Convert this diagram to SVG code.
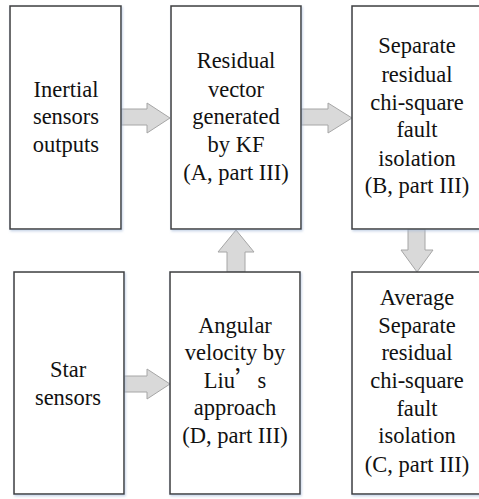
<svg xmlns="http://www.w3.org/2000/svg" width="479" height="499" viewBox="0 0 479 499">
<defs>
<filter id="sh" x="-10%" y="-10%" width="120%" height="120%">
<feDropShadow dx="1" dy="1.5" stdDeviation="1" flood-color="#9fb6d6" flood-opacity="0.6"/>
</filter>
</defs>
<style>
.box{fill:#fff;stroke:#3c3c3c;stroke-width:1.5;filter:url(#sh)}
.arr{fill:#d9d9d9;stroke:#a6a6a6;stroke-width:1}
</style>
<rect width="479" height="499" fill="#fff"/>
<g id="connectors">
<polygon class="arr" points="121,109 147,109 147,103 170,118 147,133 147,125 121,125"/>
<polygon class="arr" points="301,109 328,109 328,103 352,118 328,133 328,125 301,125"/>
<polygon class="arr" points="124,376 147,376 147,369 170,384 147,399 147,392 124,392"/>
<polygon class="arr" points="227,272 227,252 218,252 236,230 254,252 245,252 245,272"/>
<polygon class="arr" points="408,229 408,250 401,250 417,272 433,250 425,250 425,229"/>
</g>
<g font-family="Liberation Serif, Times New Roman, serif" font-size="22.5" fill="#111" text-anchor="middle">
<g id="inertial">
<rect class="box" x="10" y="6" width="111" height="223"/>
<text x="66" y="97">Inertial</text>
<text x="66" y="124">sensors</text>
<text x="66" y="152">outputs</text>
</g>
<g id="residual">
<rect class="box" x="171" y="6" width="130" height="223"/>
<text x="236" y="68">Residual</text>
<text x="236" y="97">vector</text>
<text x="236" y="124">generated</text>
<text x="236" y="152">by KF</text>
<text x="236" y="180">(A, part III)</text>
</g>
<g id="separate">
<rect class="box" x="352" y="6" width="130" height="223"/>
<text x="417" y="53">Separate</text>
<text x="417" y="82">residual</text>
<text x="417" y="110">chi-square</text>
<text x="417" y="137">fault</text>
<text x="417" y="166">isolation</text>
<text x="417" y="193">(B, part III)</text>
</g>
<g id="star">
<rect class="box" x="14" y="272" width="110" height="222"/>
<text x="68" y="377">Star</text>
<text x="68" y="405">sensors</text>
</g>
<g id="angular">
<rect class="box" x="170" y="272" width="130" height="222"/>
<text x="235" y="333">Angular</text>
<text x="235" y="360">velocity by</text>
<text x="235" y="388">Liu<tspan font-family="Noto Sans CJK SC, serif">’</tspan>s</text>
<text x="235" y="415">approach</text>
<text x="235" y="443">(D, part III)</text>
</g>
<g id="average">
<rect class="box" x="352" y="272" width="130" height="222"/>
<text x="417" y="305">Average</text>
<text x="417" y="333">Separate</text>
<text x="417" y="360">residual</text>
<text x="417" y="388">chi-square</text>
<text x="417" y="416">fault</text>
<text x="417" y="443">isolation</text>
<text x="417" y="472">(C, part III)</text>
</g>
</g>
</svg>
